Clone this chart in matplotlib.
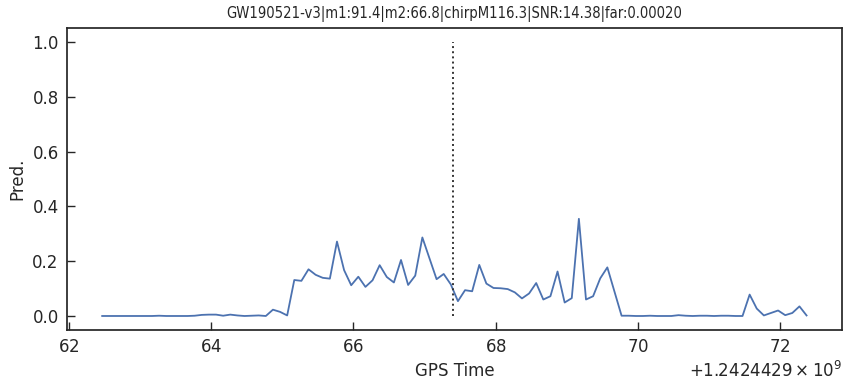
import numpy as np
import matplotlib; matplotlib.use("Agg"); import matplotlib.pyplot as plt

GPS_BASE = 1242442900.0
EVENT = 67.4                         # merger time, seconds after GPS_BASE
T_START, DT = 62.47, 0.1             # sampling grid of the classifier output
TITLE = "GW190521-v3|m1:91.4|m2:66.8|chirpM116.3|SNR:14.38|far:0.00020"
pred = [0.001, 0.001, 0.001, 0.001, 0.001, 0.001, 0.001, 0.001, 0.002, 0.001,
        0.001, 0.001, 0.001, 0.002, 0.005, 0.006, 0.006, 0.002, 0.006, 0.003,
        0.001, 0.002, 0.003, 0.001, 0.024, 0.016, 0.003, 0.132, 0.129, 0.171,
        0.151, 0.140, 0.137, 0.272, 0.168, 0.113, 0.144, 0.107, 0.131, 0.186,
        0.143, 0.123, 0.205, 0.114, 0.148, 0.287, 0.211, 0.135, 0.154, 0.116,
        0.055, 0.095, 0.091, 0.187, 0.119, 0.103, 0.102, 0.099, 0.087, 0.065,
        0.083, 0.121, 0.061, 0.073, 0.163, 0.050, 0.066, 0.355, 0.061, 0.073,
        0.138, 0.178, 0.090, 0.002, 0.002, 0.001, 0.001, 0.002, 0.001, 0.001,
        0.001, 0.004, 0.002, 0.001, 0.002, 0.002, 0.001, 0.002, 0.002, 0.001,
        0.001, 0.079, 0.028, 0.003, 0.012, 0.021, 0.004, 0.012, 0.036, 0.003]

t = GPS_BASE + T_START + DT*np.arange(len(pred))

plt.rcParams.update({"font.family": "DejaVu Sans", "text.color": "#262626",
                     "axes.labelcolor": "#262626", "xtick.color": "#262626",
                     "ytick.color": "#262626", "axes.edgecolor": "#262626"})
fig = plt.figure(figsize=(8.52, 3.88), dpi=100)
ax = fig.add_axes([0.0786, 0.1495, 0.9094, 0.7785])
ax.plot(t, pred, color="#4c72b0", lw=1.3)
ax.vlines(GPS_BASE + EVENT, 0, 1, colors="#333333", linestyles=":", lw=1.4)
ax.set_ylim(-0.05, 1.05)
ax.set_yticks(np.arange(0, 1.01, 0.2))
ax.set_xticks(GPS_BASE + np.arange(62, 73, 2))
ax.ticklabel_format(axis="x", useOffset=GPS_BASE, useMathText=True)
ax.tick_params(direction="in", length=6, width=1, labelsize=12, pad=6)
ax.xaxis.get_offset_text().set_fontsize(12)
for s in ax.spines.values(): s.set_linewidth(1.25)
ax.set_xlabel("GPS Time", fontsize=12)
ax.set_ylabel("Pred.", fontsize=12)
ax.set_title(TITLE, fontsize=10.6, fontstretch="condensed", pad=7)
fig.savefig("out.png", dpi=100)
